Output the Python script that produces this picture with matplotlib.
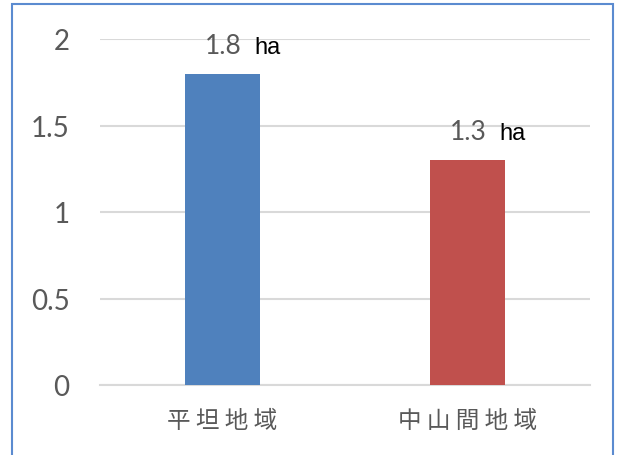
import matplotlib.pyplot as plt
from matplotlib.patches import Rectangle

# data
categories = ["平坦地域", "中山間地域"]
values = [1.8, 1.3]
value_labels = ["1.8", "1.3"]
unit = "ha"
colors = ["#4F81BD", "#C0504D"]
yticks = [0, 0.5, 1, 1.5, 2]
ytick_labels = ["0", "0.5", "1", "1.5", "2"]

fig = plt.figure(figsize=(6.2, 4.56), dpi=100)
ax = fig.add_axes([100 / 620, 1 - 386 / 456, 490 / 620, 346 / 456])

x = range(len(categories))
ax.bar(x, values, width=0.31, color=colors, zorder=3)

ax.set_xlim(-0.5, 1.5)
ax.set_ylim(0, 2)
ax.set_yticks(yticks)
ax.set_yticklabels(ytick_labels, fontsize=20, color="#595959", family="Lato")
ax.set_xticks(list(x))
# spaced characters like the original
ax.set_xticklabels([" ".join(c) for c in categories], fontsize=17, color="#595959",
                   family=["Noto Sans CJK JP", "DejaVu Sans"])
ax.tick_params(axis="both", length=0)
ax.tick_params(axis="y", pad=22)
ax.tick_params(axis="x", pad=17)

ax.grid(axis="y", color="#D9D9D9", linewidth=1.5, zorder=0)
for s in ["top", "right", "left"]:
    ax.spines[s].set_visible(False)
ax.spines["bottom"].set_color("#D9D9D9")
ax.spines["bottom"].set_linewidth(1.5)

# data labels: gray number, black unit
for i, v in enumerate(values):
    ax.annotate(value_labels[i], (i, v), xytext=(14, 15), textcoords="offset points",
                ha="right", va="baseline", fontsize=19, color="#595959", family="Lato")
    ax.annotate(unit, (i, v), xytext=(23, 15), textcoords="offset points",
                ha="left", va="baseline", fontsize=17, color="black",
                family="Liberation Sans")

# chart border
fig.patches.append(Rectangle((12 / 620, -0.02), 601 / 620, 1 - 5 / 456 + 0.02,
                             transform=fig.transFigure, fill=False,
                             edgecolor="#5B8BD0", linewidth=1.5))

fig.savefig("out.png", dpi=100)
